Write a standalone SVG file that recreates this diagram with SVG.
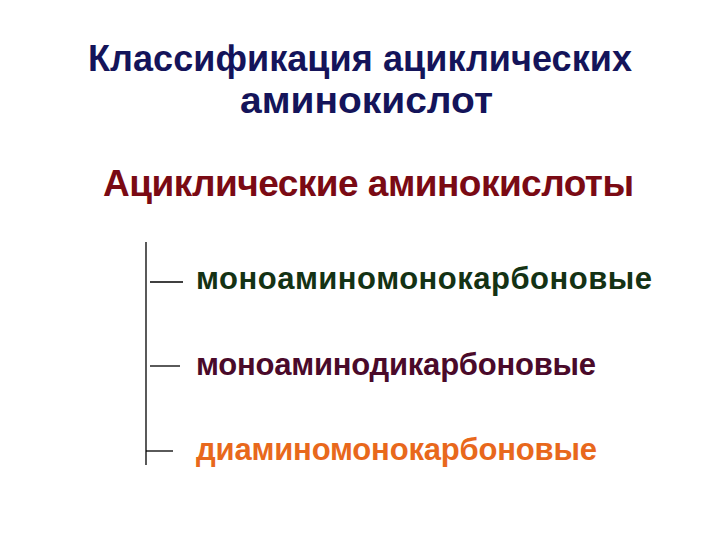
<svg xmlns="http://www.w3.org/2000/svg" width="720" height="540" viewBox="0 0 720 540">
<style>
.t{font-family:"Liberation Sans",Arial,sans-serif;font-weight:bold;fill:#14145a;font-size:36px}
.h{font-family:"Liberation Sans",Arial,sans-serif;font-weight:bold;font-size:37px;fill:#7a0a14}
.i{font-family:"Liberation Sans",Arial,sans-serif;font-weight:bold;font-size:31px}
.c{stroke:#000;stroke-width:1.3;fill:none}
</style>
<rect width="720" height="540" fill="#fff"/>
<g id="title">
<text class="t" x="88" y="71" textLength="544">Классификация ациклических</text>
<text class="t" x="240" y="113" textLength="253" lengthAdjust="spacingAndGlyphs">аминокислот</text>
</g>
<g id="root"><text class="h" x="103" y="196" textLength="531">Ациклические аминокислоты</text></g>
<g id="connectors">
<line class="c" x1="146" y1="242" x2="146" y2="465"/>
<line class="c" x1="150" y1="282" x2="183" y2="282"/>
<line class="c" x1="150" y1="366" x2="180" y2="366"/>
<line class="c" x1="146" y1="451" x2="173" y2="451"/>
</g>
<g id="n1"><text class="i" x="196" y="289" fill="#143214" textLength="456">моноаминомонокарбоновые</text></g>
<g id="n2"><text class="i" x="196" y="375" fill="#4a0a2a" textLength="400">моноаминодикарбоновые</text></g>
<g id="n3"><text class="i" x="196" y="460" fill="#e8681c" textLength="401">диаминомонокарбоновые</text></g>
</svg>
